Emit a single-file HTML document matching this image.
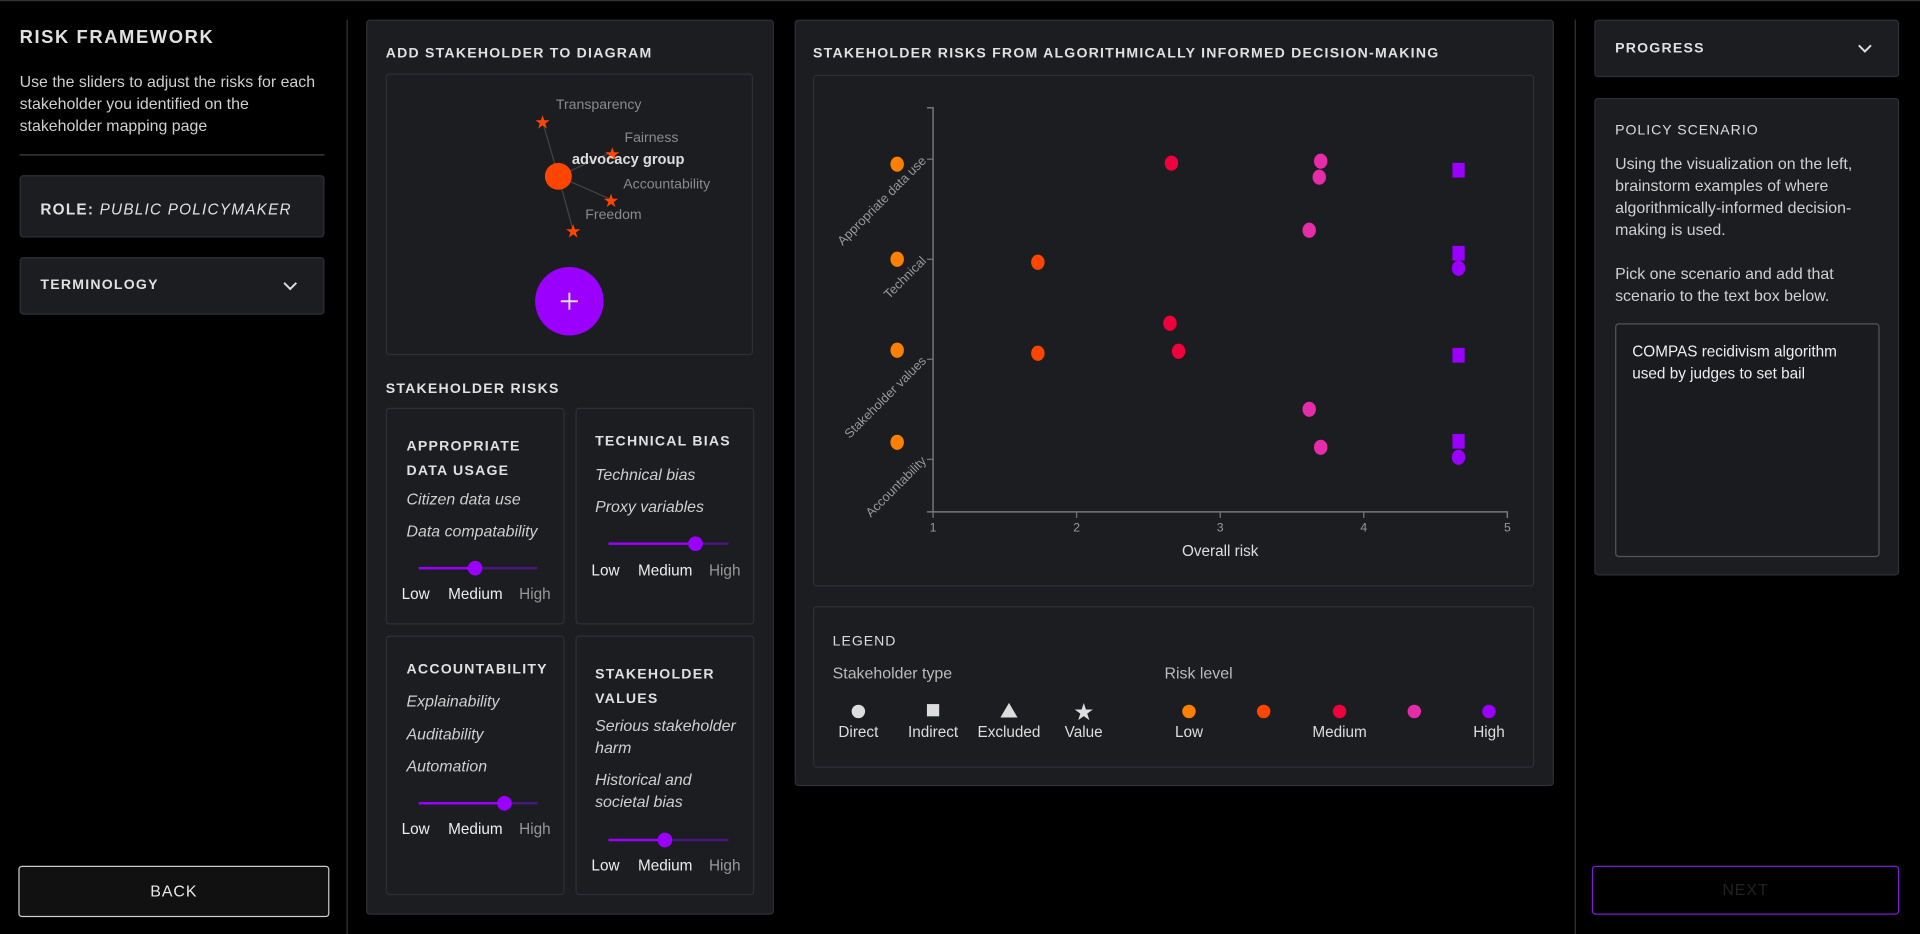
<!DOCTYPE html>
<html><head><meta charset="utf-8"><style>
html,body{margin:0;padding:0;background:#000;width:1920px;height:934px;overflow:hidden;font-family:"Liberation Sans",sans-serif;color:#d8d8d8}
#root{position:absolute;left:0;top:0;width:1568px;height:763px;transform:scale(1.22449);transform-origin:0 0;background:#000}
.abs{position:absolute}
.panel{position:absolute;background:#1b1d21;border:1px solid #2e3035;border-radius:3px;box-sizing:border-box}
.h{font-weight:bold;letter-spacing:1px;font-size:12px;color:#e0e0e0}
.it{font-style:italic;font-size:13px;color:#cfcfcf}
.lbl{font-size:12.5px}
</style></head><body>
<div id="root">
<div class="abs" style="left:0;top:0;width:1568px;height:1px;background:#333"></div>
<!-- left column -->
<div class="abs h" style="left:16px;top:22px;font-size:15px;letter-spacing:1.3px">RISK FRAMEWORK</div>
<div class="abs" style="left:16px;top:58px;width:255px;font-size:13px;line-height:18px;color:#d0d0d0">Use the sliders to adjust the risks for each stakeholder you identified on the stakeholder mapping page</div>
<div class="abs" style="left:16px;top:126px;width:249px;height:1px;background:#444"></div>
<div class="panel" style="left:16px;top:143px;width:249px;height:51px"><div class="abs h" style="left:16px;top:20px;font-size:12.5px">ROLE: <span style="font-weight:normal;font-style:italic">PUBLIC POLICYMAKER</span></div></div>
<div class="panel" style="left:16px;top:210px;width:249px;height:47px"><div class="abs h" style="left:16px;top:16px;font-size:11.5px">TERMINOLOGY</div><svg class="abs" style="left:214px;top:18px" width="12" height="10"><path d="M1 2 L6 7 L11 2" stroke="#ddd" stroke-width="1.6" fill="none"/></svg></div>
<div class="abs" style="left:15px;top:707px;width:252px;height:40px;border:1px solid #ccc;border-radius:3px;background:#111;text-align:center;line-height:40px;font-size:13px;letter-spacing:.8px;color:#e8e8e8">BACK</div>
<div class="abs" style="left:283px;top:16px;width:1px;height:747px;background:#333"></div>
<div class="abs" style="left:1286px;top:16px;width:1px;height:747px;background:#333"></div>

<!-- panel 2 -->
<div class="panel" style="left:299px;top:16px;width:333px;height:731px"></div>
<div class="abs h" style="left:315px;top:38px;font-size:11.5px">ADD STAKEHOLDER TO DIAGRAM</div>
<div class="panel" style="left:315px;top:60px;width:300px;height:230px">
<svg width="300" height="230" style="position:absolute;left:-1px;top:-1px">
<g stroke="#444" stroke-width="1"><line x1="141" y1="84" x2="128" y2="39"/><line x1="141" y1="84" x2="185" y2="64"/><line x1="141" y1="84" x2="184" y2="103"/><line x1="141" y1="84" x2="153" y2="128"/></g>
<circle cx="141" cy="84" r="11" fill="#ff4500"/>
<g fill="#ff4500" font-size="15" text-anchor="middle"><text x="128" y="45">★</text><text x="185" y="71">★</text><text x="184" y="109">★</text><text x="153" y="134">★</text></g>
<g fill="#8a8a8a" font-size="11.5"><text x="139" y="29">Transparency</text><text x="195" y="56">Fairness</text><text x="194" y="94">Accountability</text><text x="163" y="119">Freedom</text></g>
<text x="152" y="74" fill="#ddd" font-size="12" font-weight="bold">advocacy group</text>
<circle cx="150" cy="186" r="28" fill="#9b00ff"/>
<path d="M143 186 H157 M150 179 V193" stroke="#ddd" stroke-width="1.6"/>
</svg></div>
<div class="abs h" style="left:315px;top:312px;font-size:11.5px">STAKEHOLDER RISKS</div>

<div class="panel" style="left:315px;top:333px;width:146px;height:177px">
<div class="abs h" style="left:16px;top:21px;font-size:11.5px;line-height:20px">APPROPRIATE<br>DATA USAGE</div>
<div class="abs it" style="left:16px;top:66px">Citizen data use</div><div class="abs it" style="left:16px;top:92px">Data compatability</div>
<div class="abs" style="left:26px;top:129px;width:97px;height:2px;background:#4a1680"></div><div class="abs" style="left:26px;top:129px;width:46px;height:2px;background:#9b00ff"></div><div class="abs" style="left:66px;top:124px;width:12px;height:12px;border-radius:50%;background:#9b00ff"></div>
<div class="abs lbl" style="left:12px;top:144px;color:#eee">Low</div><div class="abs lbl" style="left:50px;top:144px;color:#eee">Medium</div><div class="abs lbl" style="left:108px;top:144px;color:#999">High</div></div>

<div class="panel" style="left:470px;top:333px;width:146px;height:177px">
<div class="abs h" style="left:15px;top:21px;font-size:11.5px">TECHNICAL BIAS</div>
<div class="abs it" style="left:15px;top:46px">Technical bias</div><div class="abs it" style="left:15px;top:72px">Proxy variables</div>
<div class="abs" style="left:26px;top:109px;width:98px;height:2px;background:#4a1680"></div><div class="abs" style="left:26px;top:109px;width:71px;height:2px;background:#9b00ff"></div><div class="abs" style="left:91px;top:104px;width:12px;height:12px;border-radius:50%;background:#9b00ff"></div>
<div class="abs lbl" style="left:12px;top:125px;color:#eee">Low</div><div class="abs lbl" style="left:50px;top:125px;color:#eee">Medium</div><div class="abs lbl" style="left:108px;top:125px;color:#999">High</div></div>

<div class="panel" style="left:315px;top:519px;width:146px;height:212px">
<div class="abs h" style="left:16px;top:21px;font-size:11.5px">ACCOUNTABILITY</div>
<div class="abs it" style="left:16px;top:45px">Explainability</div><div class="abs it" style="left:16px;top:72px">Auditability</div><div class="abs it" style="left:16px;top:98px">Automation</div>
<div class="abs" style="left:26px;top:135px;width:97px;height:2px;background:#4a1680"></div><div class="abs" style="left:26px;top:135px;width:70px;height:2px;background:#9b00ff"></div><div class="abs" style="left:90px;top:130px;width:12px;height:12px;border-radius:50%;background:#9b00ff"></div>
<div class="abs lbl" style="left:12px;top:150px;color:#eee">Low</div><div class="abs lbl" style="left:50px;top:150px;color:#eee">Medium</div><div class="abs lbl" style="left:108px;top:150px;color:#999">High</div></div>

<div class="panel" style="left:470px;top:519px;width:146px;height:212px">
<div class="abs h" style="left:15px;top:21px;font-size:11.5px;line-height:20px">STAKEHOLDER<br>VALUES</div>
<div class="abs it" style="left:15px;top:64px;line-height:18px">Serious stakeholder<br>harm</div><div class="abs it" style="left:15px;top:108px;line-height:18px">Historical and<br>societal bias</div>
<div class="abs" style="left:26px;top:165px;width:98px;height:2px;background:#4a1680"></div><div class="abs" style="left:26px;top:165px;width:46px;height:2px;background:#9b00ff"></div><div class="abs" style="left:66px;top:160px;width:12px;height:12px;border-radius:50%;background:#9b00ff"></div>
<div class="abs lbl" style="left:12px;top:180px;color:#eee">Low</div><div class="abs lbl" style="left:50px;top:180px;color:#eee">Medium</div><div class="abs lbl" style="left:108px;top:180px;color:#999">High</div></div>

<!-- panel 3 -->
<div class="panel" style="left:649px;top:16px;width:620px;height:626px"></div>
<div class="abs h" style="left:664px;top:38px;font-size:11.5px">STAKEHOLDER RISKS FROM ALGORITHMICALLY INFORMED DECISION-MAKING</div>
<div class="panel" style="left:664px;top:61px;width:589px;height:418px"></div>
<svg id="chart" class="abs" style="left:0;top:0" width="1568" height="763"></svg>

<div class="panel" style="left:664px;top:495px;width:589px;height:132px">
<div class="abs" style="left:15px;top:22px;font-size:11.5px;letter-spacing:.8px;color:#ddd">LEGEND</div>
<div class="abs" style="left:15px;top:46px;font-size:13px;color:#bbb">Stakeholder type</div>
<div class="abs" style="left:286px;top:46px;font-size:13px;color:#bbb">Risk level</div>
<svg class="abs" style="left:0;top:0" width="589" height="132" font-size="12.5" fill="#ddd" text-anchor="middle">
<circle cx="36" cy="85" r="5.5" fill="#ddd"/><text x="36" y="106">Direct</text>
<rect x="92" y="79" width="10" height="10" fill="#ddd"/><text x="97" y="106">Indirect</text>
<path d="M159 78 L166 90 L152 90Z" fill="#ddd"/><text x="159" y="106">Excluded</text>
<text x="220" y="92" font-size="19">★</text><text x="220" y="106">Value</text>
<circle cx="306" cy="85" r="5.5" fill="#ff8000"/><text x="306" y="106">Low</text>
<circle cx="367" cy="85" r="5.5" fill="#ff4500"/>
<circle cx="429" cy="85" r="5.5" fill="#f0003c"/><text x="429" y="106">Medium</text>
<circle cx="490" cy="85" r="5.5" fill="#e62ca8"/>
<circle cx="551" cy="85" r="5.5" fill="#9b00ff"/><text x="551" y="106">High</text>
</svg></div>

<!-- right column -->
<div class="panel" style="left:1302px;top:16px;width:249px;height:47px"><div class="abs h" style="left:16px;top:17px;font-size:11.5px">PROGRESS</div><svg class="abs" style="left:214px;top:18px" width="12" height="10"><path d="M1 2 L6 7 L11 2" stroke="#ddd" stroke-width="1.6" fill="none"/></svg></div>
<div class="panel" style="left:1302px;top:80px;width:249px;height:390px">
<div class="abs" style="left:16px;top:20px;font-size:11.5px;letter-spacing:.8px;color:#ddd">POLICY SCENARIO</div>
<div class="abs" style="left:16px;top:44px;width:220px;font-size:13px;line-height:18px;color:#d0d0d0">Using the visualization on the left, brainstorm examples of where algorithmically-informed decision-making is used.<br><br>Pick one scenario and add that scenario to the text box below.</div>
<div class="abs" style="left:16px;top:183px;width:216px;height:191px;border:1px solid #555;border-radius:3px;background:#1a1b1e;box-sizing:border-box;padding:13px;font-size:12.5px;line-height:18px;color:#eee">COMPAS recidivism algorithm used by judges to set bail</div></div>
<div class="abs" style="left:1300px;top:707px;width:251px;height:40px;border:1px solid #7a1ed0;border-radius:3px;box-sizing:border-box;text-align:center;line-height:38px;font-size:13px;letter-spacing:.8px;color:#222">NEXT</div>
</div>
<script>
const categories=["Appropriate data use","Technical","Stakeholder values","Accountability"];
const xTicks=[1,2,3,4,5];
const ptX=[0.75,2.66,3.70,3.69,4.66, 0.75,1.73,3.62,4.66,4.66, 0.75,1.73,2.65,2.71,4.66, 0.75,3.62,3.70,4.66,4.66];
const ptCat=[0,0,0,0,0, 1,1,1,1,1, 2,2,2,2,2, 3,3,3,3,3];
const ptOffset=[0.05,0.04,0.02,0.18,0.11, 0,0.03,-0.29,-0.06,0.09, -0.09,-0.06,-0.36,-0.08,-0.04, -0.17,-0.5,-0.12,-0.18,-0.02];
const ptLevel=[0,2,3,3,4, 0,1,3,4,4, 0,1,2,2,4, 0,3,3,4,4];
const ptShape=["c","c","c","c","s", "c","c","c","s","c", "c","c","c","c","s", "c","c","c","s","c"];
const levelColors=["#ff8000","#ff4500","#f0003c","#e62ca8","#9b00ff"];
const NS="http://www.w3.org/2000/svg";
const svg=document.getElementById('chart');
const X0=762,X1=1231,Y0=88,Y1=418;
const xs=v=>X0+(v-1)*(X1-X0)/4;
const ys=c=>130+c*81.7;
function mk(t,a){const e=document.createElementNS(NS,t);for(const k in a)e.setAttribute(k,a[k]);svg.appendChild(e);return e;}
mk('path',{d:`M${X0-5} ${Y0} H${X0} V${Y1} H${X1} V${Y1+5} M${X0-5} ${Y1} H${X0}`,stroke:'#777',fill:'none','stroke-width':1.2});
xTicks.forEach(t=>{const x=xs(t);
 const l=mk('line',{x1:x,x2:x,y1:Y1,y2:Y1+5,stroke:'#777'});
 const tx=mk('text',{x:x,y:Y1+16,fill:'#999','font-size':10,'text-anchor':'middle'});tx.textContent=t;
 
 
});
categories.forEach((c,i)=>{const y=ys(i);
 mk('line',{x1:X0-5,x2:X0,y1:y,y2:y,stroke:'#777'});
 const tx=mk('text',{x:X0-5,y:y+2,fill:'#999','font-size':10.5,'text-anchor':'end',transform:`rotate(-45 ${X0-5} ${y+2})`});tx.textContent=c;
 
 
});
const xt=mk('text',{x:(X0+X1)/2,y:Y1+36,fill:'#ddd','font-size':12.5,'text-anchor':'middle'});xt.textContent='Overall risk';


ptX.forEach((v,i)=>{const x=xs(v),y=ys(ptCat[i]+ptOffset[i]);let e;
 if(ptShape[i]==='s')e=mk('rect',{x:x-5,y:y-6,width:10,height:12,fill:levelColors[ptLevel[i]]});
 else e=mk('ellipse',{cx:x,cy:y,rx:5.5,ry:6.2,fill:levelColors[ptLevel[i]]});
 
 
});
</script>
</body></html>
